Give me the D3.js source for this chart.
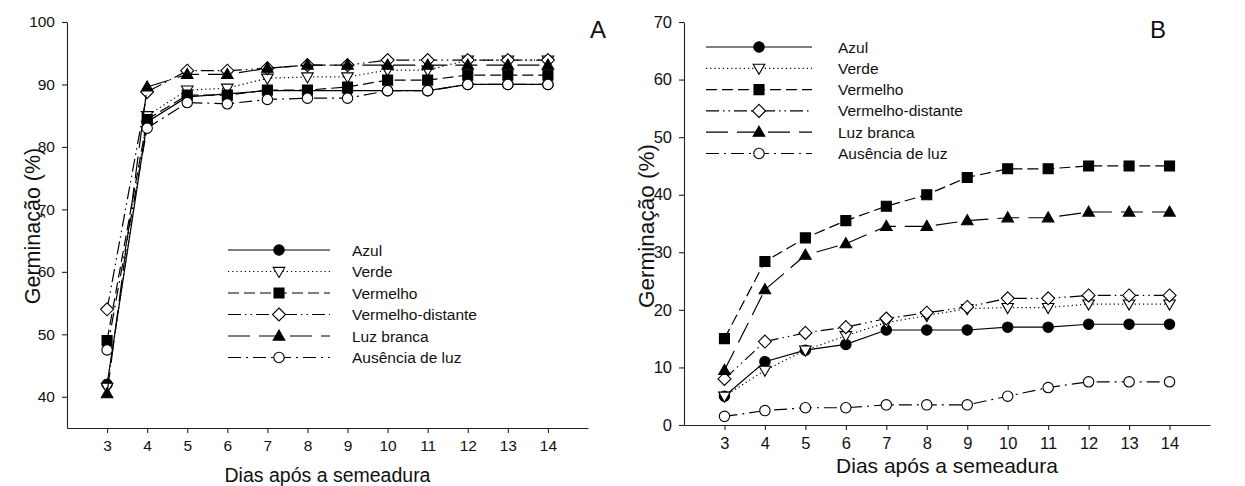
<!DOCTYPE html>
<html>
<head>
<meta charset="utf-8">
<script src="https://cdn.jsdelivr.net/npm/d3@7"></script>
<style>
  html, body { margin: 0; padding: 0; background: #fff; }
  svg { display: block; }
  text { font-family: "Liberation Sans", Arial, sans-serif; fill: #111; }
</style>
</head>
<body>
<svg id="chart" width="1245" height="486"></svg>
<script>
// Days after sowing
const days = [3, 4, 5, 6, 7, 8, 9, 10, 11, 12, 13, 14];

// Treatment names (legend order)
const treatments = ["Azul", "Verde", "Vermelho", "Vermelho-distante", "Luz branca", "Ausência de luz"];

// Panel A – germination (%)
const azulA     = [42, 84, 88, 88.5, 89, 89, 89, 89, 89, 90, 90, 90];
const verdeA    = [41.5, 85, 89.1, 89.4, 91, 91.2, 91.2, 92.3, 92.3, 93.9, 93.9, 93.9];
const vermelhoA = [49, 84.4, 88.3, 88.3, 89.1, 89.1, 89.6, 90.7, 90.7, 91.5, 91.5, 91.5];
const vdistA    = [54, 88.8, 92.2, 92.2, 92.6, 93.1, 93.1, 93.9, 93.9, 93.9, 93.9, 93.9];
const luzA      = [40.5, 89.6, 91.6, 91.6, 92.6, 93.1, 93.1, 93.1, 93.1, 93.1, 93.1, 93.1];
const ausA      = [47.5, 83, 87.1, 86.9, 87.6, 87.8, 87.8, 89, 89, 90, 90, 90];

// Panel B – germination (%)
const azulB     = [5, 11, 13, 14, 16.5, 16.5, 16.5, 17, 17, 17.5, 17.5, 17.5];
const verdeB    = [5, 9.5, 13, 15.5, 17.8, 19, 20.2, 20.4, 20.4, 21, 21, 21];
const vermelhoB = [15, 28.4, 32.5, 35.5, 38, 40, 43, 44.5, 44.5, 45, 45, 45];
const vdistB    = [8, 14.5, 16, 17, 18.5, 19.5, 20.5, 22, 22, 22.5, 22.5, 22.5];
const luzB      = [9.5, 23.5, 29.5, 31.5, 34.5, 34.5, 35.5, 36, 36, 37, 37, 37];
const ausB      = [1.5, 2.5, 3, 3, 3.5, 3.5, 3.5, 5, 6.5, 7.5, 7.5, 7.5];

// Axis ticks
const xTicks  = days;
const yTicksA = [40, 50, 60, 70, 80, 90, 100];
const yTicksB = [0, 10, 20, 30, 40, 50, 60, 70];

// Line and marker style per treatment
const styles = [
  { dash: null,                 marker: "circle",   fill: "#000" },
  { dash: "1.2,3",              marker: "triDown",  fill: "#fff" },
  { dash: "11,5",               marker: "square",   fill: "#000" },
  { dash: "13,4,1.5,4,1.5,4",   marker: "diamond",  fill: "#fff" },
  { dash: "22,9",               marker: "triUp",    fill: "#000" },
  { dash: "13,5,2,5",           marker: "circle",   fill: "#fff" }
];

function markerPath(kind) {
  switch (kind) {
    case "circle":  { const r = 5.2; return `M${r},0A${r},${r} 0 1,1 ${-r},0A${r},${r} 0 1,1 ${r},0Z`; }
    case "square":  { const h = 5;   return `M${-h},${-h}H${h}V${h}H${-h}Z`; }
    case "triUp":   return "M0,-6L5.8,4.1L-5.8,4.1Z";
    case "triDown": return "M0,6L5.8,-4.1L-5.8,-4.1Z";
    case "diamond": return "M0,-6.5L6.5,0L0,6.5L-6.5,0Z";
  }
}

const svg = d3.select("#chart");

function panel(cfg) {
  const g = svg.append("g");
  const x = d3.scaleLinear().domain([2, 15]).range(cfg.xr);
  const y = d3.scaleLinear().domain(cfg.yd).range(cfg.yr);

  // axes
  const ax = g.append("g").attr("transform", `translate(0,${cfg.yr[0]})`)
    .call(d3.axisBottom(x).tickValues(xTicks).tickSize(5).tickSizeOuter(0).tickPadding(7));
  const ay = g.append("g").attr("transform", `translate(${cfg.xr[0]},0)`)
    .call(d3.axisLeft(y).tickValues(cfg.yTicks).tickSize(5).tickSizeOuter(0).tickPadding(7));
  [ax, ay].forEach(a => {
    a.select(".domain").attr("stroke", "#222").attr("stroke-width", 1.1);
    a.selectAll(".tick line").attr("stroke", "#222").attr("stroke-width", 1.1);
    a.selectAll(".tick text").attr("font-size", cfg.tickFont).attr("fill", "#222")
      .attr("font-family", '"Liberation Sans", Arial, sans-serif');
  });

  // axis titles
  g.append("text").attr("x", x(8.5)).attr("y", cfg.xTitleY)
    .attr("text-anchor", "middle").attr("font-size", cfg.xTitleFont).text("Dias após a semeadura");
  g.append("text").attr("transform", `translate(${cfg.yTitleX},${cfg.yTitleY}) rotate(-90)`)
    .attr("text-anchor", "middle").attr("font-size", cfg.yTitleFont).text("Germinação (%)");

  // panel letter
  g.append("text").attr("x", cfg.letterX).attr("y", 38)
    .attr("text-anchor", "middle").attr("font-size", 24).text(cfg.letter);

  const line = d3.line().x((d, i) => x(days[i])).y(d => y(d));

  // lines and markers, series by series
  cfg.series.forEach((vals, si) => {
    const st = styles[si];
    g.append("path").datum(vals).attr("d", line)
      .attr("fill", "none").attr("stroke", "#000").attr("stroke-width", 1.2)
      .attr("stroke-dasharray", st.dash);
    g.selectAll(null).data(vals).join("path")
      .attr("d", markerPath(st.marker))
      .attr("transform", (d, i) => `translate(${x(days[i])},${y(d)})`)
      .attr("fill", st.fill).attr("stroke", "#000").attr("stroke-width", 1.1);
  });

  // legend
  const lg = g.append("g");
  treatments.forEach((name, i) => {
    const st = styles[i];
    const ly = cfg.leg.y0 + i * cfg.leg.dy;
    lg.append("line").attr("x1", cfg.leg.x0).attr("x2", cfg.leg.x1)
      .attr("y1", ly).attr("y2", ly)
      .attr("stroke", "#000").attr("stroke-width", 1.2).attr("stroke-dasharray", st.dash);
    lg.append("path").attr("d", markerPath(st.marker))
      .attr("transform", `translate(${(cfg.leg.x0 + cfg.leg.x1) / 2},${ly})`)
      .attr("fill", st.fill).attr("stroke", "#000").attr("stroke-width", 1.1);
    lg.append("text").attr("x", cfg.leg.tx).attr("y", ly + 5.5)
      .attr("font-size", 15.5).text(name);
  });
}

panel({
  letter: "A", letterX: 598,
  xr: [67, 588], yd: [35, 100], yr: [428, 22], yTicks: yTicksA,
  tickFont: 15.5, xTitleFont: 19.5, yTitleFont: 21.5,
  xTitleY: 482, yTitleX: 40, yTitleY: 226,
  series: [azulA, verdeA, vermelhoA, vdistA, luzA, ausA],
  leg: { x0: 228, x1: 330, tx: 352, y0: 250, dy: 21.5 }
});

panel({
  letter: "B", letterX: 1158,
  xr: [684, 1210], yd: [0, 70], yr: [425, 22], yTicks: yTicksB,
  tickFont: 16.5, xTitleFont: 21, yTitleFont: 22.5,
  xTitleY: 473, yTitleX: 654, yTitleY: 226,
  series: [azulB, verdeB, vermelhoB, vdistB, luzB, ausB],
  leg: { x0: 706, x1: 812, tx: 838, y0: 47, dy: 21.3 }
});
</script>
</body>
</html>
